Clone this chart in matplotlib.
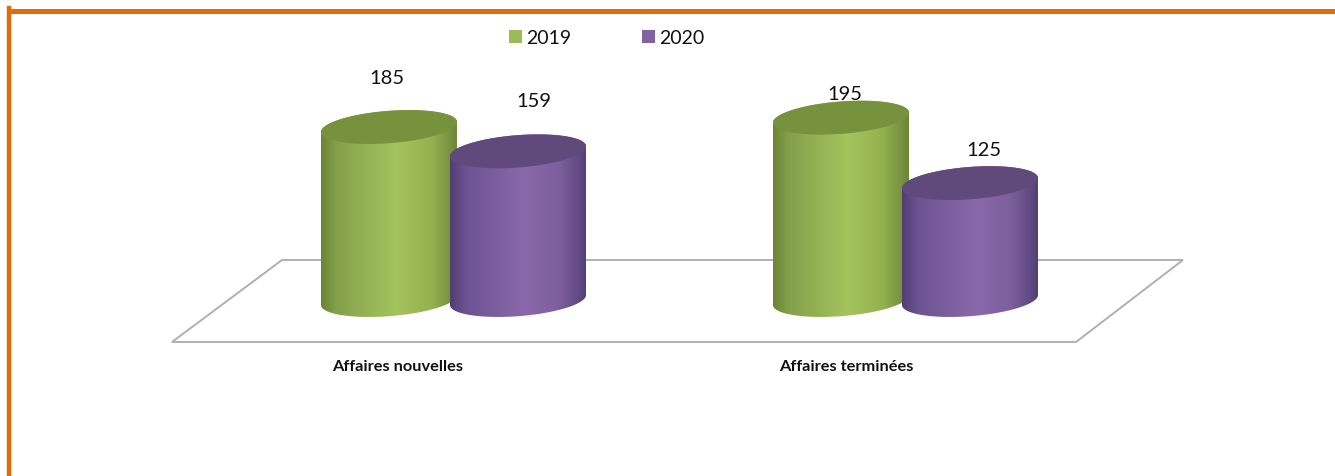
import numpy as np
import matplotlib.pyplot as plt
from matplotlib.colors import LinearSegmentedColormap
from matplotlib.lines import Line2D
from matplotlib.patches import Patch, Polygon

categories = ['Affaires nouvelles', 'Affaires terminées']
series_names = ['2019', '2020']
values_2019 = [185, 195]
values_2020 = [159, 125]

plt.rcParams['font.family'] = ['Lato', 'DejaVu Sans']

W, H = 1335, 477
fig = plt.figure(figsize=(W / 100, H / 100), dpi=100)

# le cadre orange
orange = '#E36C0A'
fig.add_artist(Line2D([9 / W, 9 / W], [0, 1 - 9 / H], color=orange, lw=3.2, solid_capstyle='projecting'))
fig.add_artist(Line2D([9 / W, 1], [1 - 11.5 / H, 1 - 11.5 / H], color=orange, lw=3.6, solid_capstyle='butt'))

# axe : une categorie = 452 px, une unite = 0.935 px
ax = fig.add_axes([0, (H - 343) / H, 1, 343 / H])
x_px = 452.0
y_px = 0.935
y_min = -42 / y_px
y_max = 301 / y_px
x_min = -453.5 / x_px
x_max = (W - 453.5) / x_px
ax.set_xlim(x_min, x_max)
ax.set_ylim(y_min, y_max)
ax.axis('off')


# le plancher
def px(xp, yp):
    return (xp - 453.5) / x_px, (300 - yp) / y_px


floor = Polygon([px(172, 342), px(1076, 342), px(1183, 260), px(282, 260)], closed=True,
                fill=False, edgecolor='#b0b0b0', lw=1.4, zorder=1, clip_on=False)
ax.add_patch(floor)

green_cm = LinearSegmentedColormap.from_list('g', [(0, '#6a8636'), (0.12, '#84a14a'), (0.55, '#a4c45e'),
                                                   (0.8, '#94b350'), (0.95, '#769240'), (1, '#6a8636')])
purple_cm = LinearSegmentedColormap.from_list('p', [(0, '#523e72'), (0.12, '#6d5392'), (0.55, '#8a69aa'),
                                                    (0.8, '#7c5f9c'), (0.95, '#5f4984'), (1, '#523e72')])
top_colors = ['#76923c', '#604a7b']

half_w = 68 / x_px
t = np.linspace(0, 2 * np.pi, 200)


def ellipse(cx, cy):
    return cx + half_w * np.cos(t), cy + (5 * np.cos(t) + 16.2 * np.sin(t)) / y_px


def cylinder(cx, value, cmap, top_color, z):
    xb, yb = ellipse(cx, 0)
    xt, yt = ellipse(cx, value)
    front = np.sin(t) <= 0
    # contour du corps : moitie basse de la base + moitie haute du dessus
    order = np.argsort(xb[front])
    xs = np.concatenate([xb[front][order], xt[~front]])
    ys = np.concatenate([yb[front][order], yt[~front]])
    poly = Polygon(np.column_stack([xs, ys]), closed=True, facecolor='none', edgecolor='none', zorder=z)
    ax.add_patch(poly)
    grad = np.linspace(0, 1, 256).reshape(1, -1)
    im = ax.imshow(grad, cmap=cmap, extent=[cx - half_w, cx + half_w, -30, value + 30],
                   aspect='auto', zorder=z, interpolation='bilinear')
    im.set_clip_path(poly)
    ax.fill(xt, yt, color=top_color, lw=0, zorder=z + 0.1)


offset = 64.5 / x_px
for i in range(len(categories)):
    cylinder(i - offset, values_2019[i], green_cm, top_colors[0], 2 + i * 2)
    cylinder(i + offset, values_2020[i], purple_cm, top_colors[1], 3 + i * 2)
ax.set_xlim(x_min, x_max)
ax.set_ylim(y_min, y_max)

# etiquettes de valeurs, decalees a la main comme sur l'original
label_shift_2019 = [(-2, 50), (4, 24)]
label_shift_2020 = [(16, 51), (14, 34)]
for i in range(len(categories)):
    ax.annotate(str(values_2019[i]), (i - offset, values_2019[i]), xytext=label_shift_2019[i],
                textcoords='offset pixels', ha='center', va='center', fontsize=14.5, color='#111111', zorder=10)
    ax.annotate(str(values_2020[i]), (i + offset, values_2020[i]), xytext=label_shift_2020[i],
                textcoords='offset pixels', ha='center', va='center', fontsize=14.5, color='#111111', zorder=10)

cat_shift = [-55.5, -59]
for i, name in enumerate(categories):
    ax.annotate(name, (i, y_min), xytext=(cat_shift[i], -24), textcoords='offset pixels',
                ha='center', va='center', fontsize=11.8, fontweight='bold', color='#111111',
                annotation_clip=False)

handles = [Patch(facecolor='#9bbb59', edgecolor='none'), Patch(facecolor='#8064a2', edgecolor='none')]
ax.legend(handles, series_names, ncol=2, frameon=False, fontsize=14, handlelength=0.67, handleheight=0.67,
          handletextpad=0.2, columnspacing=3.65, loc='center', bbox_to_anchor=(607 / W, (343 - 39) / 343),
          borderpad=0, labelcolor='#111111')

fig.savefig('out.png', dpi=100)
